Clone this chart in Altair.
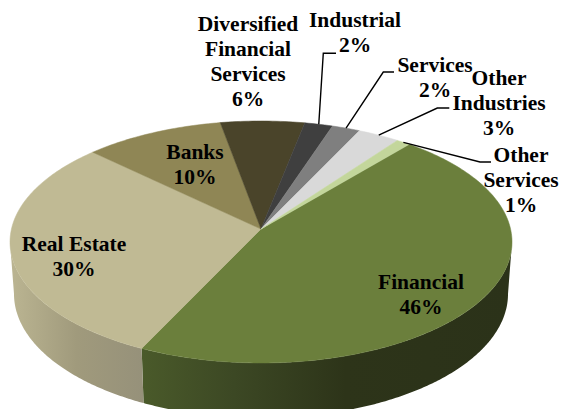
import math
import altair as alt

# Chart values
categories = ["Financial", "Real Estate", "Banks", "Diversified Financial Services",
              "Industrial", "Services", "Other Industries", "Other Services"]
shares = [46, 30, 10, 6, 2, 2, 3, 1]
first_angle = 40

# Styles
top_colors = ["#6B7F3C", "#C0BA94", "#8F8655", "#4A442A", "#3F3F3F", "#7F7F7F", "#D9D9D9", "#C3D69B"]
label_lines = [["Financial", "46%"], ["Real Estate", "30%"], ["Banks", "10%"],
               ["Diversified", "Financial", "Services", "6%"], ["Industrial", "2%"],
               ["Services", "2%"], ["Other", "Industries", "3%"], ["Other", "Services", "1%"]]
label_x = [421, 74, 195, 248, 355, 435, 499, 521]
label_y = [289, 251, 159, 31, 27, 72, 85, 162]

# Leader elbows (page pixels), keyed by category index
leader_elbows = {4: [(323.3, 53.3), (336, 53.3)],
                 5: [(383.3, 72), (394, 72)],
                 6: [(437.3, 108), (449.3, 108)],
                 7: [(480, 162), (491, 162)]}

# Pie geometry in page pixels
CX, CY, RX, RY = 261, 242, 251, 121
BCY, BRX, BRY = 294, 247, 124
PERSP = 0.107
M = 8  # page margin
W, H = 551, 401


def rim(phi_deg, r=1.0):
    """True pie angle (clockwise from top) to page pixels under perspective."""
    p = math.radians(phi_deg)
    x, y = r * math.sin(p), r * math.cos(p)
    d = 1 + PERSP * y
    xp = x * math.sqrt(1 - PERSP ** 2) / d
    yp = (y + PERSP) / d
    return (CX + RX * xp, CY - RY * yp)


def feature(points):
    ring = [[px - M, py - M] for px, py in points]
    ring.append(ring[0])
    return {"type": "Feature", "properties": {},
            "geometry": {"type": "Polygon", "coordinates": [ring]}}


def frange(a, b, step=1.0):
    n = max(2, int(abs(b - a) / step) + 1)
    return [a + (b - a) * i / (n - 1) for i in range(n)]


def project(chart):
    return chart.project(type="identity", scale=1, translate=[0, 0])


edges = [first_angle]
for s in shares:
    edges.append(edges[-1] + s * 3.6)

# side wall: split at the Financial / Real Estate boundary
bx, by = rim(edges[1])
ts = math.acos((bx - CX) / RX)


def wall(t0, t1):
    top = [(CX + RX * math.cos(t), CY + RY * math.sin(t)) for t in frange(t0, t1, 0.01)]
    bot = [(CX + BRX * math.cos(t), BCY + BRY * math.sin(t)) for t in frange(t1, t0, 0.01)]
    return feature(top + bot)


def grad(stops):
    return alt.LinearGradient(gradient="linear", x1=0, x2=1, y1=0, y2=0,
                              stops=[alt.GradientStop(color=c, offset=o) for o, c in stops])


layers = []
layers.append(project(alt.Chart(alt.Data(values=[wall(0, ts)])).mark_geoshape(
    fill=grad([(0, "#4A5A2A"), (0.25, "#3C4824"), (0.55, "#2D3419"), (1, "#2B3219")]))))
layers.append(project(alt.Chart(alt.Data(values=[wall(ts, math.pi)])).mark_geoshape(
    fill=grad([(0, "#BBB592"), (0.5, "#A09A7C"), (1, "#96917A")]))))

apex = (CX, CY - RY * PERSP)
for i, c in enumerate(top_colors):
    pts = [apex] + [rim(a) for a in frange(edges[i], edges[i + 1])]
    layers.append(project(alt.Chart(alt.Data(values=[feature(pts)])).mark_geoshape(
        fill=c, stroke=c, strokeWidth=0.5)))

xs = alt.Scale(domain=[M, M + W], range=[0, W], nice=False, zero=False)
ys = alt.Scale(domain=[M, M + H], range=[0, H], nice=False, zero=False)

line_rows = []
for i, elbow in leader_elbows.items():
    mid = (edges[i] + edges[i + 1]) / 2
    for k, (px, py) in enumerate([rim(mid)] + elbow):
        line_rows.append({"who": categories[i], "k": k, "px": px, "py": py})

layers.append(alt.Chart(alt.Data(values=line_rows)).mark_line(
    color="black", strokeWidth=1.4).encode(
    x=alt.X("px:Q", scale=xs, axis=None),
    y=alt.Y("py:Q", scale=ys, axis=None),
    detail="who:N", order="k:Q"))

text_rows = [{"t": "\n".join(l), "px": x, "py": y}
             for l, x, y in zip(label_lines, label_x, label_y)]
layers.append(alt.Chart(alt.Data(values=text_rows)).mark_text(
    font="Liberation Serif", fontWeight="bold", fontSize=21.5, color="black",
    align="center", baseline="alphabetic", lineBreak="\n", lineHeight=25).encode(
    x=alt.X("px:Q", scale=xs, axis=None),
    y=alt.Y("py:Q", scale=ys, axis=None),
    text="t:N"))

chart = alt.layer(*layers).properties(
    width=W, height=H, padding=0, autosize=alt.AutoSizeParams(type="none")
).configure_view(stroke=None)

chart.save("out.html", embed_options={"renderer": "svg", "actions": False})
